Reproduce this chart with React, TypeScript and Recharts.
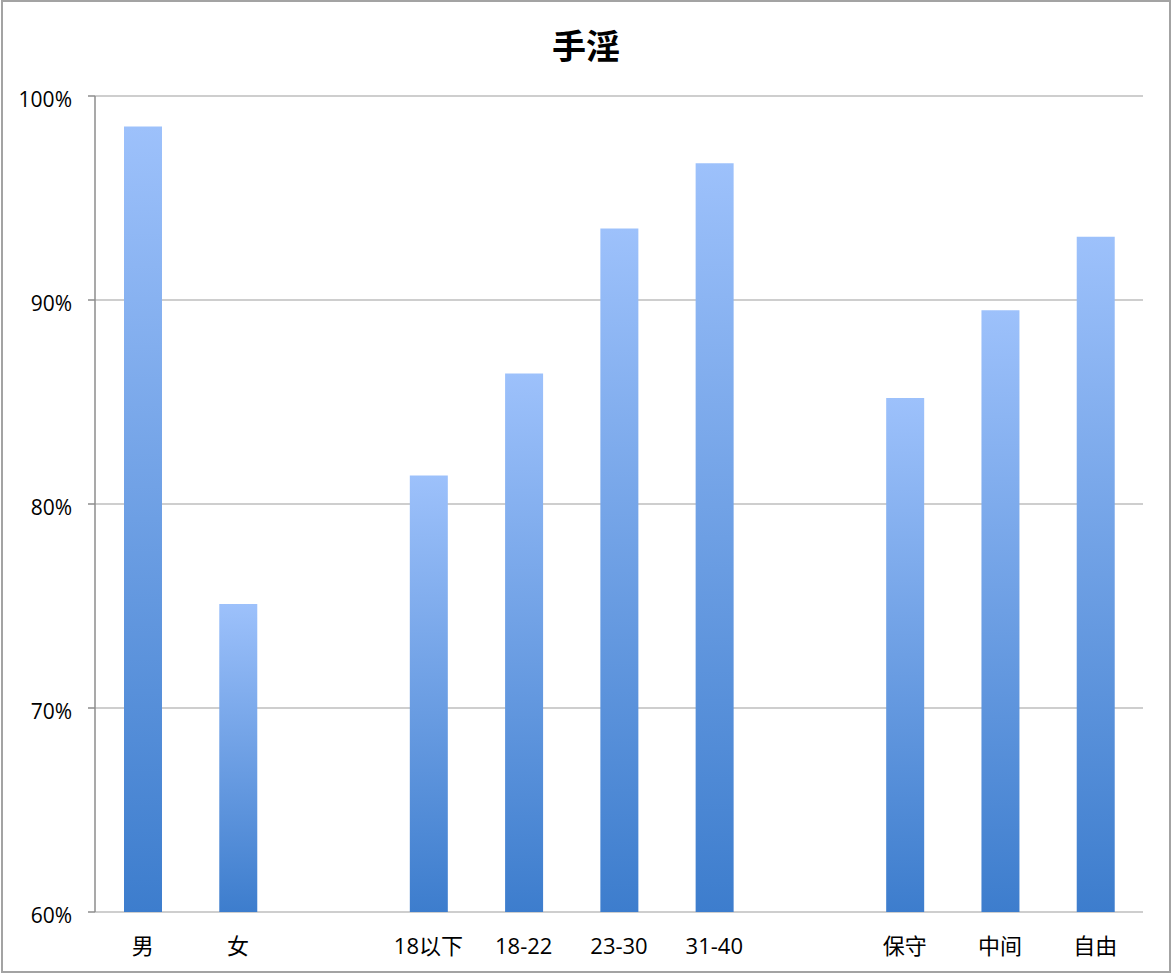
import React from 'react';
import { BarChart, Bar, XAxis, YAxis, CartesianGrid } from 'recharts';

// categories (two empty gaps between groups)
const categories = ['男', '女', '', '18以下', '18-22', '23-30', '31-40', '', '保守', '中间', '自由'];
// share in percent, null for the gap slots
const values = [98.5, 75.1, null, 81.4, 86.4, 93.5, 96.7, null, 85.2, 89.5, 93.1];
const yTicks = [60, 70, 80, 90, 100];
// boundaries between categories, for the tick marks under the axis
const boundaryTicks = [0, 1, 2, 3, 4, 5, 6, 7, 8, 9, 10, 11];

const data = categories.map((name, i) => ({ name, value: values[i] }));

const FONT = '"Open Sans", "Noto Sans CJK SC", sans-serif';
const AXIS = '#8c8c8c';

export default function App() {
  return (
    <div
      style={{
        position: 'absolute',
        left: 0,
        top: 0,
        width: 1172,
        height: 974,
        background: '#fff',
        fontFamily: FONT,
      }}
    >
      <div
        style={{
          position: 'absolute',
          left: 1,
          top: 0,
          width: 1170,
          height: 973,
          boxSizing: 'border-box',
          border: '2px solid #a3a3a3',
          pointerEvents: 'none',
          zIndex: 2,
        }}
      />
      <div
        style={{
          position: 'absolute',
          left: 0,
          top: 24,
          width: 1172,
          textAlign: 'center',
          fontFamily: '"Noto Sans CJK SC", sans-serif',
          fontWeight: 700,
          fontSize: 34,
          color: '#000',
          lineHeight: '42px',
        }}
      >
        手淫
      </div>
      <BarChart
        width={1172}
        height={974}
        data={data}
        margin={{ top: 96, right: 29, bottom: 0, left: 0 }}
        barSize={38}
        style={{ position: 'absolute', left: 0, top: 0 }}
      >
        <defs>
          <linearGradient id="barFill" x1="0" y1="0" x2="0" y2="1">
            <stop offset="0%" stopColor="#9dc1fb" />
            <stop offset="100%" stopColor="#3d7dcd" />
          </linearGradient>
        </defs>
        <CartesianGrid
          xAxisId="cat"
          vertical={false}
          stroke="#9e9e9e"
          strokeWidth={1.2}
        />
        <XAxis
          xAxisId="edges"
          type="number"
          domain={[0, 11]}
          ticks={boundaryTicks}
          height={0}
          tickSize={8}
          tickFormatter={() => ''}
          axisLine={{ stroke: AXIS, strokeWidth: 1.5 }}
          tickLine={{ stroke: AXIS, strokeWidth: 1.5 }}
        />
        <XAxis
          xAxisId="cat"
          dataKey="name"
          height={62}
          axisLine={false}
          tickLine={false}
          tickSize={0}
          tickMargin={26}
          interval={0}
          tick={{ fill: '#000', fontSize: 22, fontFamily: FONT }}
        />
        <YAxis
          domain={[60, 100]}
          ticks={yTicks}
          width={95}
          tickSize={7}
          tickMargin={16}
          allowDataOverflow
          tickFormatter={(v) => `${v}%`}
          axisLine={{ stroke: AXIS, strokeWidth: 1.5 }}
          tickLine={{ stroke: AXIS, strokeWidth: 1.5 }}
          tick={{ fill: '#000', fontSize: 21, fontFamily: FONT, dy: 4 }}
        />
        <Bar
          xAxisId="cat"
          dataKey="value"
          fill="url(#barFill)"
          isAnimationActive={false}
        />
      </BarChart>
    </div>
  );
}
